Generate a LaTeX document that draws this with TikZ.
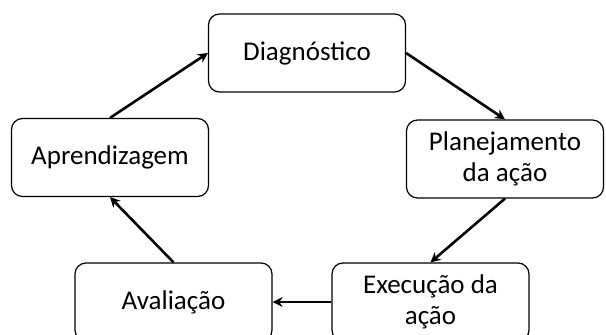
\documentclass[tikz,border=0pt]{standalone}
\usepackage{fontspec}
\setmainfont{Carlito}
\usetikzlibrary{arrows.meta}

\begin{document}
\begin{tikzpicture}[x=1pt,y=-1pt]
    % Styles for stages and arrows
    \tikzset{
        stage/.style={draw=black, line width=1.2pt, rounded corners=11pt,
            minimum width=197pt, minimum height=78pt, align=center,
            font=\fontsize{27}{31}\selectfont, inner sep=2pt},
        flow/.style={line width=2.6pt, -{Stealth[length=10pt,width=10pt]}}
    }

    % Page size
    \useasboundingbox (0,0) rectangle (606,335);

    % Stages of the cycle
    \node[stage] (diag) at (307,53) {Diagnóstico};
    \node[stage] (plan) at (505,159) {Planejamento\\da ação};
    \node[stage] (exec) at (430.5,302) {Execução da\\ação};
    \node[stage] (aval) at (173.5,302) {Avaliação};
    \node[stage] (apre) at (110,157.5) {Aprendizagem};

    % Arrows of the cycle
    \draw[flow] (apre.north) -- (diag.west);
    \draw[flow] (diag.east) -- (plan.north);
    \draw[flow] (plan.south) -- (exec.north);
    \draw[flow] (exec.west) -- (aval.east);
    \draw[flow] (aval.north) -- (apre.south);
\end{tikzpicture}
\end{document}
